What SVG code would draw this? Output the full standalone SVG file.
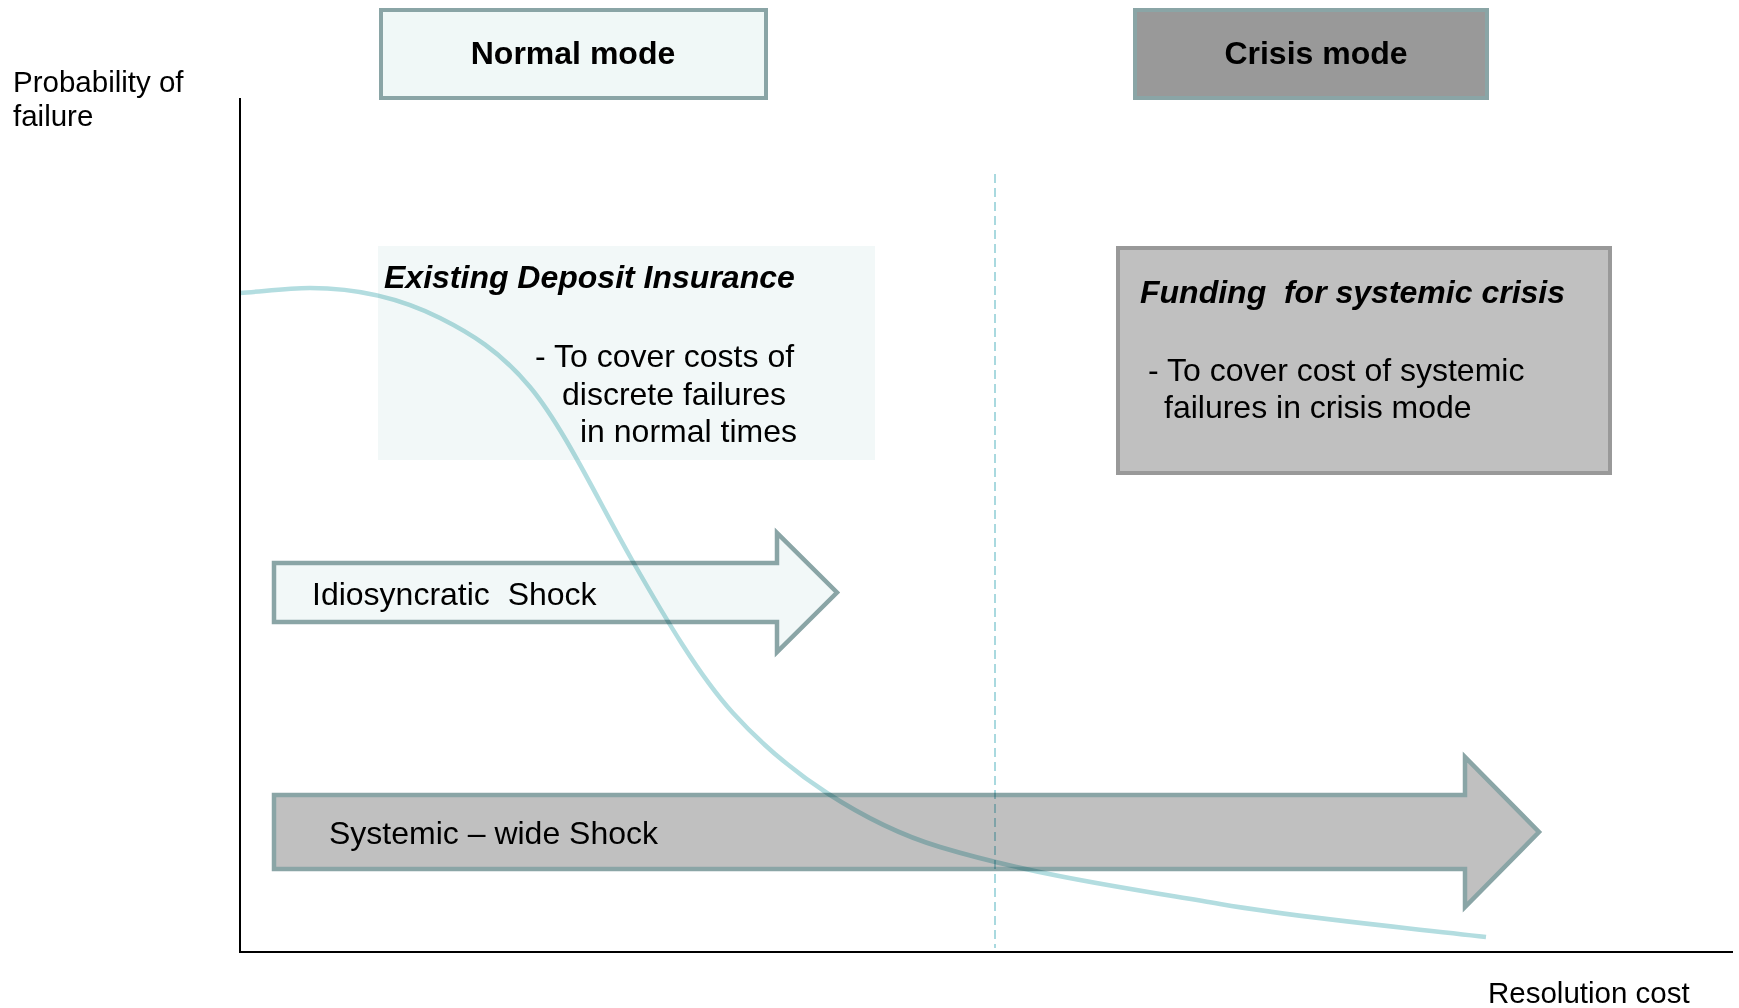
<svg xmlns="http://www.w3.org/2000/svg" width="1739" height="1008" viewBox="0 0 1739 1008">
  <style>
    .t { font-family: "Liberation Sans", Arial, sans-serif; fill: #000; }
    .reg { font-size: 32px; }
    .axis-label { font-size: 29.5px; }
    .head { font-size: 32px; font-weight: bold; }
    .title-it { font-size: 32px; font-weight: bold; font-style: italic; }
    .pre { white-space: pre; }
    .mode-box { stroke: #8aa5a6; stroke-width: 4; }
    .shock { stroke: #8aa5a6; stroke-width: 4.5; stroke-linejoin: miter; }
    .blend { mix-blend-mode: multiply; }
  </style>

  <rect width="1739" height="1008" fill="#ffffff"/>

  <!-- Mode headers -->
  <g id="normal-mode">
    <rect class="mode-box" x="381" y="10" width="385" height="88" fill="#f0f8f7"/>
    <text class="t head" x="573" y="64" text-anchor="middle">Normal mode</text>
  </g>
  <g id="crisis-mode">
    <rect class="mode-box" x="1135" y="10" width="352" height="88" fill="#999999"/>
    <text class="t head" x="1316" y="64" text-anchor="middle">Crisis mode</text>
  </g>

  <!-- Funding boxes -->
  <g id="deposit-insurance">
    <rect x="378" y="246" width="497" height="214" fill="#f2f8f8"/>
    <text class="t title-it" x="384" y="288">Existing Deposit Insurance</text>
    <text class="t reg" x="535" y="367">- To cover costs of</text>
    <text class="t reg" x="562" y="405">discrete failures</text>
    <text class="t reg" x="580" y="442">in normal times</text>
  </g>
  <g id="systemic-funding">
    <rect x="1118" y="248" width="492" height="225" fill="#c0c0c0" stroke="#999999" stroke-width="4"/>
    <text class="t title-it pre" x="1140" y="303">Funding  for systemic crisis</text>
    <text class="t reg" x="1148" y="381">- To cover cost of systemic</text>
    <text class="t reg" x="1164" y="418">failures in crisis mode</text>
  </g>

  <!-- Shock arrows -->
  <g id="idiosyncratic-shock">
    <path class="shock" fill="#f2f8f8" d="M274 563 H777 V533 L837 592.5 L777 652 V622 H274 Z"/>
    <text class="t reg pre" x="312" y="605">Idiosyncratic  Shock</text>
  </g>
  <g id="systemic-shock">
    <path class="shock" fill="#c0c0c0" d="M274 795 H1465 V757 L1539 832 L1465 907 V869 H274 Z"/>
    <text class="t reg" x="329" y="844">Systemic – wide Shock</text>
  </g>

  <!-- Axes and axis labels -->
  <g id="axes" stroke="#000000" stroke-width="2" fill="none">
    <line x1="240" y1="98" x2="240" y2="953"/>
    <line x1="239" y1="952" x2="1733" y2="952"/>
  </g>
  <g id="axis-labels">
    <text class="t axis-label" x="13" y="92">Probability of</text>
    <text class="t axis-label" x="13" y="126">failure</text>
    <text class="t axis-label" x="1488" y="1003">Resolution cost</text>
  </g>

  <!-- Connectors: mode divider and failure-probability curve -->
  <g id="connectors" fill="none">
    <line class="blend" x1="995" y1="174" x2="995" y2="948" stroke="#a9d9df" stroke-width="2" stroke-dasharray="9 5"/>
    <path class="blend" stroke="#b3dde0" stroke-width="4.5" stroke-linecap="butt"
      d="M240 293
         C263.3 291.4 286.7 288 310 288
         C353.3 288 396.7 296.3 440 318
         C470 333 500 351 530 387
         C564 427.8 598 500.5 632 560
         C665.7 619 699.3 676 733 713
         C764.3 747.5 795.7 772.6 827 793
         C864.7 817.5 902.3 835.7 940 847
         C1033.3 875 1126.7 888.1 1220 904
         C1308.7 919.1 1397.3 926.4 1486 937"/>
  </g>
</svg>
